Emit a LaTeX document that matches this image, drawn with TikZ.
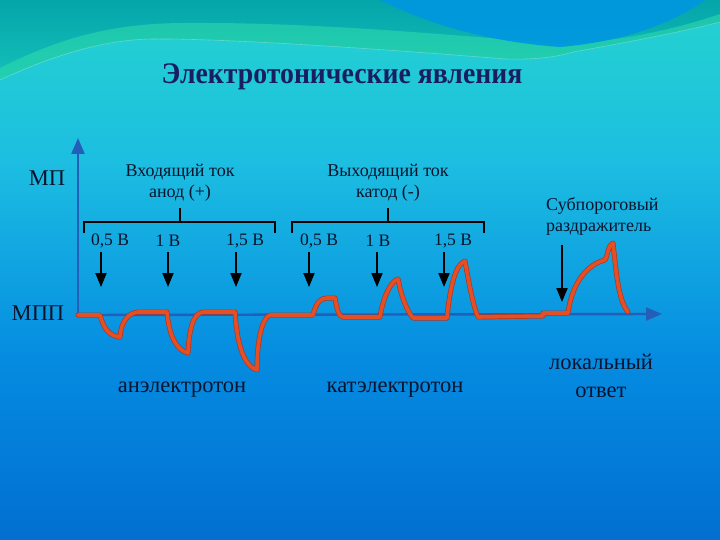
\documentclass[tikz,border=0pt]{standalone}
\usepackage{fontspec}
\setmainfont{Liberation Serif}
\usetikzlibrary{arrows.meta}
\definecolor{bgtopA}{RGB}{5,165,170}
\definecolor{bgtopB}{RGB}{20,192,185}
\definecolor{bgmidA}{RGB}{35,207,210}
\definecolor{bgmidB}{RGB}{28,190,225}
\definecolor{bgmidC}{RGB}{5,140,225}
\definecolor{bgbot}{RGB}{0,92,198}
\definecolor{axisblue}{RGB}{35,95,185}
\definecolor{wavered}{RGB}{228,80,35}
\definecolor{wavedark}{RGB}{170,55,40}
\definecolor{titlecol}{RGB}{25,30,95}
\definecolor{txt}{RGB}{10,20,45}
\definecolor{lightband}{RGB}{45,218,172}
\definecolor{topblue}{RGB}{0,150,225}
\pgfdeclareverticalshading{bgshade}{100bp}{color(0bp)=(bgbot); color(14bp)=(bgbot); color(42bp)=(bgmidC); color(60bp)=(bgmidB); color(72bp)=(bgmidA); color(100bp)=(bgmidA)}
\tikzset{
  axis/.style={draw=axisblue, line width=2.4pt, -{Triangle[length=16pt,width=13pt]}},
  stim/.style={draw=black, line width=2pt, -{Triangle[length=14pt,width=11pt]}},
  brack/.style={draw=black, line width=2.4pt},
  small/.style={font=\fontsize{18}{21}\selectfont, text=txt, align=center, inner sep=0pt},
  big/.style={font=\fontsize{22.5}{28}\selectfont, text=txt, align=center, inner sep=0pt},
  volt/.style={font=\fontsize{17.5}{20}\selectfont, text=txt, inner sep=0pt},
}
\begin{document}
\begin{tikzpicture}[x=1pt,y=-1pt]
\useasboundingbox (0,0) rectangle (720,540);
% background
\shade[shading=bgshade] (0,0) rectangle (720,540);
% top teal region above the wave line
\shade[top color=bgtopA, bottom color=bgtopB] (0,0) -- (0,80) .. controls (50,57) and (100,40) .. (151,39) .. controls (230,38) and (420,52) .. (505,59) .. controls (540,60) and (560,56) .. (573,52) .. controls (630,42) and (690,30) .. (720,22) -- (720,0) -- cycle;
% light green band
\fill[lightband, opacity=0.6] (0,68) .. controls (60,38) and (110,24) .. (180,23) .. controls (300,22) and (420,32) .. (560,44) .. controls (620,42) and (680,28) .. (720,14) -- (720,22) .. controls (690,30) and (630,42) .. (573,52) .. controls (560,56) and (540,60) .. (505,59) .. controls (420,52) and (230,38) .. (151,39) .. controls (100,40) and (50,57) .. (0,80) -- cycle;
% blue shape top right
\fill[topblue, opacity=0.9] (380,0) .. controls (430,25) and (490,42) .. (560,47) .. controls (620,42) and (670,25) .. (705,0) -- cycle;
\draw[white, opacity=0.3, line width=0.6pt] (0,80) .. controls (50,57) and (100,40) .. (151,39) .. controls (230,38) and (420,52) .. (505,59) .. controls (540,60) and (560,56) .. (573,52) .. controls (630,42) and (690,30) .. (720,22);
% title
\node[text=titlecol, inner sep=0pt] (title) at (342,77) {\scalebox{0.925}[1]{\bfseries\fontsize{30}{34}\selectfont Электротонические явления}};
% axes
\coordinate (origin) at (78,315);
\coordinate (ytip) at (78,138);
\coordinate (xtip) at (662,314);
\draw[axis] (origin) -- (ytip);
\draw[axis] (origin) -- (xtip);
\node[big] (mp) at (47,178) {МП};
\node[big] (mpp) at (38,313) {МПП};
% group labels
\node[small] (inlab) at (180,183) {Входящий ток\\анод (+)};
\node[small] (outlab) at (388,183) {Выходящий ток\\катод (-)};
\node[small, align=left, anchor=west] (sub) at (546,216) {Субпороговый\\раздражитель};
% brackets
\coordinate (b1s) at (180,208);
\coordinate (b2s) at (388,208);
\draw[brack] (84,233) -- (84,222) -- (275,222) -- (275,233);
\draw[brack] (180,222) -- (b1s);
\draw[brack] (292,233) -- (292,222) -- (484,222) -- (484,233);
\draw[brack] (388,222) -- (b2s);
% voltage labels
\node[volt] (v1) at (110,241) {0,5 В};
\node[volt] (v2) at (168,241) {1 В};
\node[volt] (v3) at (245,241) {1,5 В};
\node[volt] (v4) at (319,241) {0,5 В};
\node[volt] (v5) at (378,241) {1 В};
\node[volt] (v6) at (453,241) {1,5 В};
% stimulus arrows
\foreach \x [count=\i] in {101,168,236,309,377,444} {
  \coordinate (s\i a) at (\x,252);
  \coordinate (s\i b) at (\x,287);
  \draw[stim] (s\i a) -- (s\i b);
}
\coordinate (sa) at (562,245);
\coordinate (sb) at (562,302);
\draw[stim] (sa) -- (sb);
% waveform
\def\wavepath{(78,315) -- (100,315) .. controls (104,330) and (110,336) .. (120,337) .. controls (121,323) and (127,313) .. (138,312) -- (167,312) .. controls (169,335) and (176,350) .. (188,353) .. controls (189,330) and (193,313) .. (203,312) -- (235,312) .. controls (237,345) and (244,366) .. (257,370) .. controls (257,340) and (262,318) .. (270,315) -- (313,315) .. controls (316,303) and (320,298) .. (327,298) -- (335,298) .. controls (337,310) and (339,317) .. (343,317) -- (380,317) .. controls (383,298) and (390,282) .. (398,279) .. controls (402,300) and (408,312) .. (413,318) -- (447,318) .. controls (450,285) and (456,264) .. (465,261) .. controls (470,290) and (474,308) .. (478,317) -- (543,316) -- (543,313) -- (568,313) .. controls (572,282) and (588,264) .. (605,260) .. controls (608,255) and (608,245) .. (613,243) .. controls (616,270) and (618,300) .. (628,312)}
\draw[wavedark, line width=5pt, line join=round, line cap=round] \wavepath;
\draw[wavered, line width=3.6pt, line join=round, line cap=round] \wavepath;
% bottom labels
\node[big] (anel) at (182,390) {анэлектротон};
\node[big] (katel) at (395,390) {катэлектротон};
\node[big] (local) at (601,376) {локальный\\ответ};
\end{tikzpicture}
\end{document}
